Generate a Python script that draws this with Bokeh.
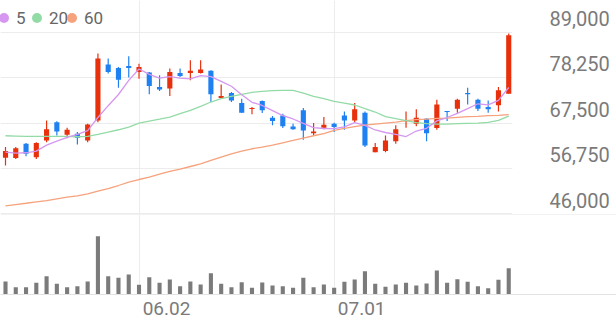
from bokeh.plotting import figure
from bokeh.layouts import column
from bokeh.models import (Range1d, LinearAxis, FixedTicker, Grid, Span, Legend,
                          LegendItem, ColumnDataSource, NumeralTickFormatter)
from bokeh.embed import file_html
from bokeh.resources import INLINE

# ---------------- data ----------------
dates = ["05.14", "05.15", "05.16", "05.19", "05.20", "05.21", "05.22", "05.23", "05.26", "05.27",
         "05.28", "05.29", "05.30", "06.02", "06.04", "06.05", "06.09", "06.10", "06.11", "06.12",
         "06.13", "06.16", "06.17", "06.18", "06.19", "06.20", "06.23", "06.24", "06.25", "06.26",
         "06.27", "06.30", "07.01", "07.02", "07.03", "07.04", "07.07", "07.08", "07.09", "07.10",
         "07.11", "07.14", "07.15", "07.16", "07.17", "07.18", "07.21", "07.22", "07.23", "07.24"]

open_ = [59250, 59200, 62600, 59400, 63350, 67700, 64700, 64950, 63350, 68100,
         81350, 80550, 81000, 79600, 79450, 76050, 75650, 79350, 79350, 79350,
         79850, 73400, 74600, 72250, 70800, 72700, 68750, 69300, 66700, 70500,
         65100, 66400, 67350, 69300, 68100, 69950, 60600, 60850, 63150, 67900,
         67350, 68500, 66300, 70350, 70900, 74600, 73000, 71300, 71700, 74450]
high = [61800, 61800, 62750, 62950, 68100, 67900, 66400, 65350, 67350, 83950,
        82750, 80750, 83300, 81550, 79600, 78800, 80400, 80400, 82350, 82350,
        80000, 76600, 74850, 73250, 71300, 72850, 69150, 69700, 67350, 71050,
        67500, 68900, 67550, 70250, 72250, 70250, 62750, 64550, 66950, 70250,
        70750, 68650, 73000, 70350, 73250, 75850, 73250, 72850, 76050, 88700]
low = [57450, 59000, 59600, 59000, 62950, 64550, 63900, 62400, 62950, 67700,
       79200, 75850, 78300, 78000, 74300, 75100, 73900, 78400, 77600, 79200,
       72450, 73250, 72450, 69950, 69550, 69850, 66950, 66300, 65900, 63550,
       64550, 66000, 65350, 65900, 67700, 61800, 60600, 60600, 62600, 66400,
       66750, 63150, 65900, 67950, 69950, 71900, 70350, 69950, 70250, 74450]
close = [60850, 61550, 60200, 62750, 66000, 65500, 65900, 64000, 67150, 82750,
         79600, 77750, 80550, 80750, 76250, 75450, 79600, 78650, 79850, 80150,
         74300, 73900, 72850, 69950, 71050, 70500, 67950, 66750, 66000, 65750,
         65500, 67100, 66550, 68100, 70750, 62200, 61800, 63350, 66000, 68100,
         68750, 65100, 71900, 70100, 73000, 74300, 70900, 70750, 75250, 88300]

ma5 = [60600, 60370, 60450, 60840, 62270, 63200, 64070, 64830, 65710, 68800,
       71600, 74250, 77600, 80280, 79000, 78150, 78500, 78150, 77950, 78700,
       78500, 77350, 76200, 74200, 72400, 71650, 70450, 69250, 68450, 67400,
       66400, 66200, 66150, 66600, 67600, 66950, 65850, 65250, 64800, 64300,
       65600, 66250, 68000, 68800, 69800, 70900, 72050, 71800, 72850, 75900]
ma20 = [64480, 64400, 64320, 64320, 64320, 64320, 64320, 64240, 64320, 64800,
        65350, 65900, 66540, 67490, 67960, 68430, 68910, 69700, 70490, 71440,
        72470, 73260, 73820, 74290, 74760, 75000, 75160, 75240, 75240, 74600,
        73820, 73260, 72630, 72230, 71760, 70890, 70100, 68990, 68510, 68040,
        67570, 67330, 67250, 67250, 67330, 67410, 67490, 67650, 68120, 69150]
ma60 = [47870, 48190, 48500, 48820, 49130, 49530, 49930, 50240, 50720, 51350,
        51980, 52700, 53490, 54120, 54670, 55380, 56020, 56570, 57200, 57840,
        58630, 59420, 60210, 60840, 61400, 61790, 62270, 62820, 63370, 63930,
        64480, 64960, 65750, 66220, 66620, 67010, 67250, 67490, 67720, 68040,
        68280, 68440, 68590, 68670, 68830, 68990, 69070, 69230, 69310, 69460]

volume = [390, 220, 220, 350, 550, 320, 220, 250, 390, 1750,
          550, 500, 600, 290, 520, 350, 450, 250, 390, 300,
          640, 320, 220, 370, 200, 360, 270, 250, 200, 500,
          220, 300, 200, 380, 450, 700, 320, 230, 300, 350,
          270, 330, 720, 350, 460, 380, 250, 190, 440, 790]

price_ticks = [46000, 56750, 67500, 78250, 89000]
label_dates = ["06.02", "07.01"]
ma_labels = ["5", "20", "60"]

# ---------------- styling ----------------
RED = "#e8300c"
BLUE = "#1f80f2"
MA_COLORS = ["#d597ef", "#93dba6", "#f6a27c"]
GRID = "#ececec"
TEXT = "#7a7a7a"
FONT = "Roboto"

PX = 10.27           # pixels per candle
X0 = -0.487          # x value at left edge
PRICE_W = 512        # plot-frame width of the price panel
Y_LO, Y_HI = 45834, 96507
LEGEND_X = [-9, 24, 59]   # left edge of each legend entry (screen px)

idx = list(range(len(dates)))
tick_idx = [dates.index(d) for d in label_dates]
colors = [RED if c >= o else BLUE for o, c in zip(open_, close)]
src = ColumnDataSource(dict(
    x=idx, high=high, low=low,
    top=[max(o, c) for o, c in zip(open_, close)],
    bottom=[min(o, c) for o, c in zip(open_, close)],
    color=colors, vol=volume, ma5=ma5, ma20=ma20, ma60=ma60))

# ---------------- price panel ----------------
p = figure(width=616, height=214, output_backend="svg", toolbar_location=None,
           x_range=Range1d(X0, X0 + PRICE_W / PX), y_range=Range1d(Y_LO, Y_HI),
           x_axis_location=None, y_axis_location=None, frame_align=False,
           min_border_left=0, min_border_right=616 - PRICE_W,
           min_border_top=0, min_border_bottom=0)
p.outline_line_color = None
p.grid.visible = False
p.add_layout(Grid(dimension=0, ticker=FixedTicker(ticks=tick_idx), grid_line_color=GRID))
p.add_layout(Grid(dimension=1, ticker=FixedTicker(ticks=price_ticks), grid_line_color=GRID))

D = 3245  # labels sit above their grid lines
p.extra_y_ranges = {"lab": Range1d(Y_LO - D, Y_HI - D)}
yax = LinearAxis(y_range_name="lab", ticker=FixedTicker(ticks=price_ticks),
                 formatter=NumeralTickFormatter(format="0,0"),
                 axis_line_color=None, major_tick_line_color=None, minor_tick_line_color=None,
                 major_tick_out=0, major_tick_in=0, major_label_standoff=37,
                 major_label_text_font=FONT, major_label_text_font_size="20px",
                 major_label_text_color=TEXT)
p.add_layout(yax, "right")

p.segment(x0="x", y0="high", x1="x", y1="low", line_color="color", line_width=1.2, source=src)
p.vbar(x="x", width=0.5, top="top", bottom="bottom", fill_color="color", line_color=None, source=src)

p.line("x", "ma60", line_color=MA_COLORS[2], line_width=1.3, source=src)
p.line("x", "ma20", line_color=MA_COLORS[1], line_width=1.3, source=src)
p.line("x", "ma5", line_color=MA_COLORS[0], line_width=1.3, source=src)

for lab, col, lx in zip(ma_labels, MA_COLORS, LEGEND_X):
    r = p.scatter(x=[-100], y=[0], marker="circle", size=10, fill_color=col, line_color=None)
    leg = Legend(items=[LegendItem(label=lab, renderers=[r])], location=(lx, 184),
                 glyph_width=25, glyph_height=25, label_standoff=0, spacing=0,
                 label_width=0, padding=0, margin=0, border_line_color=None,
                 background_fill_alpha=0,
                 label_text_font=FONT, label_text_font_size="17px", label_text_color="#666666")
    p.add_layout(leg, "center")

# ---------------- volume panel ----------------
VOL_W = 616
v = figure(width=616, height=107, output_backend="svg", toolbar_location=None,
           x_range=Range1d(X0, X0 + VOL_W / PX), y_range=Range1d(0, 2400),
           x_axis_location=None, y_axis_location=None, frame_align=False,
           min_border_left=0, min_border_right=0, min_border_top=0, min_border_bottom=27)
v.outline_line_color = None
v.grid.visible = False
v.add_layout(Grid(dimension=0, ticker=FixedTicker(ticks=tick_idx), grid_line_color=GRID))
v.add_layout(Span(location=2400, dimension="width", line_color="#e6e6e6", line_width=1))

S = 2.68  # date labels start at their grid line
v.extra_x_ranges = {"lab": Range1d(X0 - S, X0 + VOL_W / PX - S)}
xax = LinearAxis(x_range_name="lab", ticker=FixedTicker(ticks=tick_idx),
                 major_label_overrides={t: d for t, d in zip(tick_idx, label_dates)},
                 axis_line_color="#e2e2e2", major_tick_line_color=None, minor_tick_line_color=None,
                 major_tick_out=0, major_tick_in=0, major_label_standoff=7,
                 major_label_text_font=FONT, major_label_text_font_size="19px",
                 major_label_text_color=TEXT)
v.add_layout(xax, "below")

v.vbar(x="x", width=0.4, top="vol", bottom=0, fill_color="#7b7b7b", line_color=None, source=src)

layout = column(p, v, spacing=0)
open("out.html", "w").write(file_html(layout, INLINE))
